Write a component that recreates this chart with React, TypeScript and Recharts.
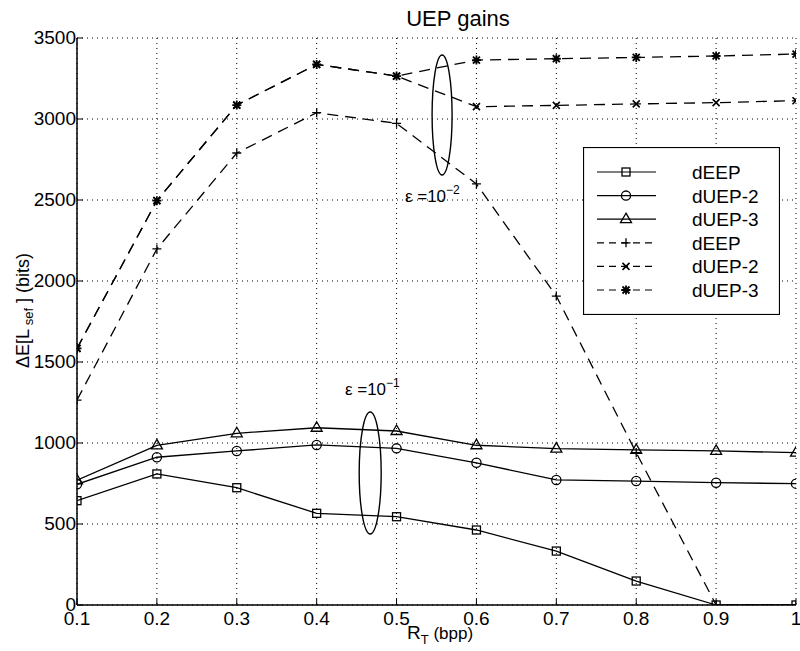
import { LineChart, Line, XAxis, YAxis, CartesianGrid, Legend, ReferenceDot } from "recharts";

const FONT = "'Liberation Sans', Arial, Helvetica, sans-serif";

const rates = [0.1, 0.2, 0.3, 0.4, 0.5, 0.6, 0.7, 0.8, 0.9, 1.0];
const yTicks = [0, 500, 1000, 1500, 2000, 2500, 3000, 3500];

// eps = 10^-1, solid curves
const deepHigh = [644, 809, 724, 566, 545, 463, 333, 148, 0, 0];
const duep2High = [745, 912, 951, 988, 967, 878, 772, 765, 755, 749];
const duep3High = [770, 985, 1060, 1094, 1074, 986, 965, 957, 951, 940];

// eps = 10^-2, dashed curves
const deepLow = [1265, 2198, 2790, 3039, 2973, 2599, 1907, 940, 0, 0];
const duep2Low = [1584, 2496, 3086, 3337, 3265, 3076, 3084, 3093, 3101, 3113];
const duep3Low = [1584, 2496, 3086, 3337, 3265, 3364, 3372, 3380, 3389, 3401];

type MarkerKind = "square" | "circle" | "triangle" | "plus" | "cross" | "star";

const series: { key: string; name: string; values: number[]; marker: MarkerKind; dashed: boolean }[] = [
  { key: "deepHigh", name: "dEEP", values: deepHigh, marker: "square", dashed: false },
  { key: "duep2High", name: "dUEP-2", values: duep2High, marker: "circle", dashed: false },
  { key: "duep3High", name: "dUEP-3", values: duep3High, marker: "triangle", dashed: false },
  { key: "deepLow", name: "dEEP", values: deepLow, marker: "plus", dashed: true },
  { key: "duep2Low", name: "dUEP-2", values: duep2Low, marker: "cross", dashed: true },
  { key: "duep3Low", name: "dUEP-3", values: duep3Low, marker: "star", dashed: true },
];

const data = rates.map((rate, i) => {
  const row: Record<string, number> = { rate };
  series.forEach((s) => {
    row[s.key] = s.values[i];
  });
  return row;
});

function Marker({ kind, cx, cy }: { kind: MarkerKind; cx: number; cy: number }) {
  const common = { fill: "none", stroke: "#000", strokeWidth: 1.3, strokeDasharray: "none" };
  const plus = `M${cx - 4.5},${cy}H${cx + 4.5}M${cx},${cy - 4.5}V${cy + 4.5}`;
  const cross = `M${cx - 3.5},${cy - 3.5}L${cx + 3.5},${cy + 3.5}M${cx + 3.5},${cy - 3.5}L${cx - 3.5},${cy + 3.5}`;
  switch (kind) {
    case "square":
      return <rect x={cx - 4} y={cy - 4} width={8} height={8} {...common} />;
    case "circle":
      return <circle cx={cx} cy={cy} r={4.6} {...common} />;
    case "triangle":
      return <path d={`M${cx},${cy - 6}L${cx + 5.5},${cy + 3.5}L${cx - 5.5},${cy + 3.5}Z`} {...common} />;
    case "plus":
      return <path d={plus} {...common} />;
    case "cross":
      return <path d={cross} {...common} strokeWidth={1.6} />;
    default:
      return <path d={plus + cross} {...common} strokeWidth={1.8} />;
  }
}

function LegendBox() {
  const rowY = (i: number) => 25 + i * 23.6;
  return (
    <svg width={197} height={168} style={{ display: "block" }}>
      <rect x={0.5} y={0.5} width={196} height={167} fill="#fff" stroke="#000" strokeWidth={1.2} />
      {series.map((s, i) => (
        <g key={s.key}>
          <line
            x1={14}
            x2={73}
            y1={rowY(i)}
            y2={rowY(i)}
            stroke="#000"
            strokeWidth={1.2}
            strokeDasharray={s.dashed ? "7 5" : undefined}
          />
          <Marker kind={s.marker} cx={43} cy={rowY(i)} />
          <text x={109} y={rowY(i) + 7} fontSize={19} fontFamily={FONT} fill="#000">
            {s.name}
          </text>
        </g>
      ))}
    </svg>
  );
}

function EpsLabel({ cx, cy, exp }: { cx: number; cy: number; exp: string }) {
  return (
    <text x={cx} y={cy} fontSize={17} fontFamily={FONT} fill="#000">
      <tspan>ε =10</tspan>
      <tspan dy={-8} fontSize={12}>{exp}</tspan>
    </text>
  );
}

// y tick labels sit right against the left axis, baseline a little below the grid line
function YTick({ x, y, payload }: any) {
  return (
    <text x={x} y={y + 5.5} textAnchor="end" fontSize={19} fontFamily={FONT} fill="#000">
      {payload.value}
    </text>
  );
}

export default function App() {
  const axisLine = { stroke: "#000", strokeWidth: 1.5 };
  const tickStyle = { fill: "#000", fontSize: 19, fontFamily: FONT };
  return (
    <div style={{ position: "absolute", left: 0, top: 0, background: "#fff" }}>
      <svg width={800} height={36} style={{ position: "absolute", left: 0, top: 0 }}>
        <text x={458} y={26} textAnchor="middle" fontSize={22} fontFamily={FONT} fill="#000">
          UEP gains
        </text>
      </svg>
      <LineChart width={800} height={651} data={data} margin={{ top: 38, right: 4, bottom: 0, left: 0 }}>
        <CartesianGrid stroke="#000" strokeDasharray="1 4" strokeWidth={1} />
        <XAxis
          dataKey="rate"
          type="number"
          domain={[0.1, 1]}
          ticks={rates}
          interval={0}
          allowDataOverflow
          tickFormatter={(v: number) => (v === 1 ? "1" : v.toFixed(1))}
          height={46}
          tickSize={-6}
          tickMargin={13}
          axisLine={axisLine}
          tickLine={{ stroke: "#000" }}
          tick={tickStyle}
          label={{
            content: () => (
              <text x={407} y={639} fontFamily={FONT} fill="#000">
                <tspan fontSize={19}>R</tspan>
                <tspan fontSize={13} dy={5}>T</tspan>
                <tspan fontSize={17} dy={-5}>{"  (bpp)"}</tspan>
              </text>
            ),
          }}
        />
        <XAxis
          xAxisId="top"
          orientation="top"
          type="number"
          domain={[0.1, 1]}
          ticks={rates}
          interval={0}
          allowDataOverflow
          height={0}
          tick={false}
          tickSize={-6}
          axisLine={axisLine}
          tickLine={{ stroke: "#000" }}
        />
        <YAxis
          type="number"
          domain={[0, 3500]}
          ticks={yTicks}
          interval={0}
          allowDataOverflow
          width={77}
          tickSize={-6}
          tickMargin={7}
          axisLine={axisLine}
          tickLine={{ stroke: "#000" }}
          tick={<YTick />}
          label={{
            content: () => (
              <text transform="rotate(-90)" x={-368} y={29} fontFamily={FONT} fill="#000">
                <tspan fontSize={18}>ΔE[L</tspan>
                <tspan fontSize={13} dy={4}>{" sef"}</tspan>
                <tspan fontSize={18} dy={-4}>{" ]  (bits)"}</tspan>
              </text>
            ),
          }}
        />
        <YAxis
          yAxisId="right"
          orientation="right"
          type="number"
          domain={[0, 3500]}
          ticks={yTicks}
          interval={0}
          allowDataOverflow
          width={0}
          tick={false}
          tickSize={-6}
          axisLine={axisLine}
          tickLine={{ stroke: "#000" }}
        />
        {series.map((s) => (
          <Line
            key={s.key}
            dataKey={s.key}
            name={s.name}
            type="linear"
            stroke="#000"
            strokeWidth={1.3}
            strokeDasharray={s.dashed ? "11 7" : undefined}
            isAnimationActive={false}
            dot={(p: any) => <Marker key={`${s.key}-${p.index}`} kind={s.marker} cx={p.cx} cy={p.cy} />}
            activeDot={false}
          />
        ))}
        <ReferenceDot
          x={0.557}
          y={3025}
          r={0}
          shape={(p: any) => <ellipse cx={p.cx} cy={p.cy} rx={10} ry={60} fill="none" stroke="#000" strokeWidth={1.4} />}
        />
        <ReferenceDot
          x={0.467}
          y={815}
          r={0}
          shape={(p: any) => <ellipse cx={p.cx} cy={p.cy} rx={11} ry={61} fill="none" stroke="#000" strokeWidth={1.4} />}
        />
        <ReferenceDot x={0.5105} y={2490} r={0} shape={(p: any) => <EpsLabel cx={p.cx} cy={p.cy} exp="−2" />} />
        <ReferenceDot x={0.4354} y={1295} r={0} shape={(p: any) => <EpsLabel cx={p.cx} cy={p.cy} exp="−1" />} />
        <Legend
          layout="vertical"
          align="center"
          verticalAlign="middle"
          wrapperStyle={{ left: 583, top: 147, width: 197, height: 168 }}
          content={() => <LegendBox />}
        />
      </LineChart>
    </div>
  );
}
